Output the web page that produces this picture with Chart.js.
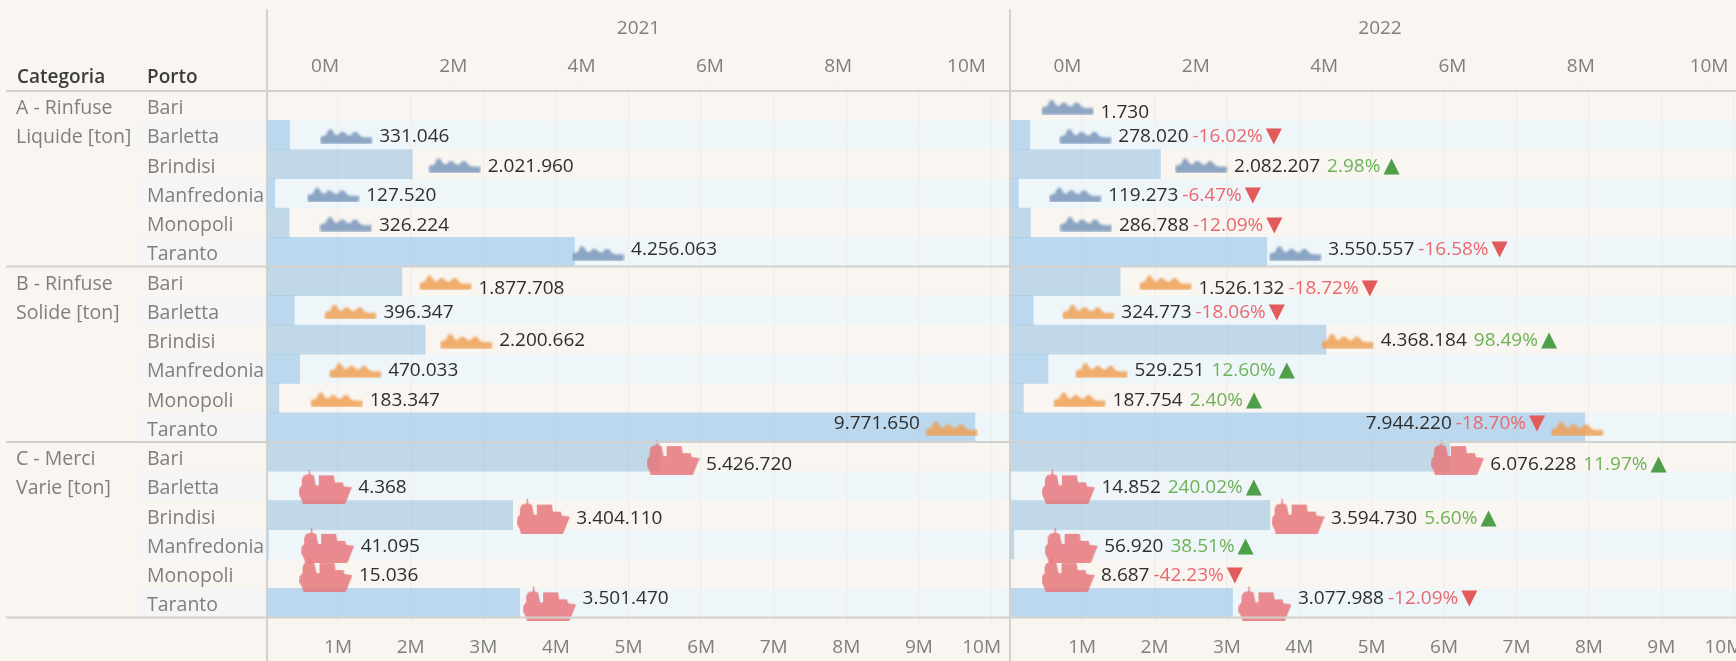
<!DOCTYPE html>
<html>
<head>
<meta charset="utf-8">
<script src="https://cdn.jsdelivr.net/npm/chart.js@4"></script>
<style>
  html, body { margin: 0; background: #f9f5f1; }
  #wrap { position: relative; width: 1736px; height: 661px; overflow: hidden; }
</style>
</head>
<body>
<div id="wrap"><canvas id="porti"></canvas></div>
<script>
var categorie = ["A - Rinfuse|Liquide [ton]", "B - Rinfuse|Solide [ton]", "C - Merci|Varie [ton]"];
var porti = ["Bari", "Barletta", "Brindisi", "Manfredonia", "Monopoli", "Taranto"];

var liquide2021 = [null, 331046, 2021960, 127520, 326224, 4256063];
var liquide2022 = [1730, 278020, 2082207, 119273, 286788, 3550557];
var solide2021 = [1877708, 396347, 2200662, 470033, 183347, 9771650];
var solide2022 = [1526132, 324773, 4368184, 529251, 187754, 7944220];
var merci2021 = [5426720, 4368, 3404110, 41095, 15036, 3501470];
var merci2022 = [6076228, 14852, 3594730, 56920, 8687, 3077988];

var tickTop = [0, 2000000, 4000000, 6000000, 8000000, 10000000];
var tickBottom = [1000000, 2000000, 3000000, 4000000, 5000000, 6000000, 7000000, 8000000, 9000000, 10000000];

// tableau moves the labels a bit off the row centre, px per row
var labelShift = [7, 2, 2, 2, 3, -2, 7, 2, 1, 2, 2, -4, 8, 2, 3, 2, 2, -4];

var values2021 = liquide2021.concat(solide2021, merci2021);
var values2022 = liquide2022.concat(solide2022, merci2022);
var righe = porti.concat(porti, porti);

var FONT = "'Open Sans', sans-serif";
var SIZE = 19;
var ROW_SIZE = 19.5;
var GREY = "#7f7f7f";
var LINE = "#d3d1ce";

// ship glyphs, used as point styles
function lowShip(color) {
  var c = document.createElement("canvas");
  c.width = 53;
  c.height = 18;
  var g = c.getContext("2d");
  g.filter = "blur(0.8px)";
  g.fillStyle = color;
  g.beginPath();
  var pts = [[1, 18], [0.5, 11.5], [3, 10], [6, 9.5], [9, 3.5], [12, 3.5], [15, 8.5], [18, 9.5], [21, 6], [24, 6], [28, 9.5], [31, 9.5], [34, 6], [37, 6], [41, 10.5], [44, 11.5], [52.5, 11.5], [52, 18]];
  pts.forEach(function (p, i) {
    if (i === 0) g.moveTo(p[0], p[1]);
    else g.lineTo(p[0], p[1]);
  });
  g.closePath();
  g.fill();
  return c;
}

function bigShip(color) {
  var c = document.createElement("canvas");
  c.width = 53;
  c.height = 37;
  var g = c.getContext("2d");
  g.filter = "blur(0.4px)";
  g.fillStyle = color;
  g.beginPath();
  var pts = [[3, 33], [0, 27], [0.5, 21], [3, 18], [3, 12], [5, 8], [9.5, 7], [10, 2], [11, 2], [11.5, 7], [15, 8], [16, 13], [17, 18], [20, 18], [20, 8], [35, 8], [36, 15], [44, 15], [45, 19], [53, 20], [47, 35], [46, 37], [4, 37]];
  pts.forEach(function (p, i) {
    if (i === 0) g.moveTo(p[0], p[1]);
    else g.lineTo(p[0], p[1]);
  });
  g.closePath();
  g.fill();
  return c;
}

var ships = [
  lowShip("rgba(121,150,186,0.85)"),
  lowShip("rgba(239,160,85,0.85)"),
  bigShip("rgba(230,119,123,0.85)"),
];

function shipFor(ctx) {
  return ships[Math.floor(ctx.dataIndex / 6)];
}

function milioni(v) {
  return Math.round(v / 1e6) + "M";
}

function milioniBottom(v) {
  // the last label sits a little inside the pane
  return v === 1e7 ? milioni(v) + "    " : milioni(v);
}

function puntato(v) {
  return String(v).replace(/\B(?=(\d{3})+$)/g, ".");
}

function text(g, str, x, y, font, color, align) {
  g.font = font;
  g.fillStyle = color;
  g.textAlign = align || "left";
  g.textBaseline = "middle";
  g.fillText(str, x, y);
}

var sfondo = {
  id: "sfondo",
  beforeDraw: function (chart) {
    var g = chart.ctx;
    var y = chart.scales.y;
    var a = chart.chartArea;
    righe.forEach(function (r, i) {
      if (i % 2 === 0) return;
      var top = y.getPixelForValue(i - 0.5);
      var h = y.getPixelForValue(i + 0.5) - top;
      g.fillStyle = "#f5f5f5";
      g.fillRect(137, top, a.left - 137, h);
      g.fillStyle = "#eff6fa";
      g.fillRect(a.left, top, a.right - a.left, h);
    });
  },
};

function drawLabels(chart, values, prev, scaleId, right) {
  var g = chart.ctx;
  var x = chart.scales[scaleId];
  var y = chart.scales.y;
  var f = SIZE + "px " + FONT;
  values.forEach(function (v, i) {
    if (v === null) return;
    var px = x.getPixelForValue(v);
    var py = y.getPixelForValue(i) + labelShift[i];
    var parts = [{ s: puntato(v), c: "#2e2e2e", gap: 0, f: f }];
    if (prev && prev[i] !== null) {
      var d = (v / prev[i] - 1) * 100;
      var up = d >= 0;
      parts.push({ s: d.toFixed(2) + "%", c: up ? "#6eb257" : "#e9686d", gap: up ? 7 : 4, f: f });
      parts.push({ s: up ? "\u25B2" : "\u25BC", c: up ? "#4e9e4a" : "#e35a5a", gap: 3, f: "21px 'DejaVu Sans'" });
    }
    var w = 0;
    parts.forEach(function (p) {
      g.font = p.f;
      p.w = g.measureText(p.s).width;
      w += p.w + p.gap;
    });
    var cur = px + 33;
    if (cur + w > right) cur = px - 32 - w;
    parts.forEach(function (p) {
      cur += p.gap;
      text(g, p.s, cur, py, p.f, p.c);
      cur += p.w;
    });
  });
}

var decorazioni = {
  id: "decorazioni",
  afterDatasetsDraw: function (chart) {
    var g = chart.ctx;
    var y = chart.scales.y;
    var a = chart.chartArea;
    var divide = chart.scales.xBar2022.left;

    g.strokeStyle = LINE;
    g.lineWidth = 2;
    [-0.5, 5.5, 11.5, 17.5].forEach(function (r) {
      var py = y.getPixelForValue(r);
      g.beginPath();
      g.moveTo(6, py);
      g.lineTo(a.right, py);
      g.stroke();
    });
    [a.left, divide].forEach(function (px) {
      g.beginPath();
      g.moveTo(px, 9);
      g.lineTo(px, 661);
      g.stroke();
    });

    drawLabels(chart, values2021, null, "xShip2021", divide);
    drawLabels(chart, values2022, values2021, "xShip2022", a.right);

    text(g, "2021", (a.left + divide) / 2, 29, SIZE + "px " + FONT, GREY, "center");
    text(g, "2022", (divide + a.right) / 2 + 7, 29, SIZE + "px " + FONT, GREY, "center");
    text(g, "Categoria", 17, 78, "600 19px " + FONT, "#3c3c3c");
    text(g, "Porto", 147, 78, "600 19px " + FONT, "#3c3c3c");

    categorie.forEach(function (c, i) {
      var p = c.split("|");
      text(g, p[0], 16, y.getPixelForValue(i * 6) + 3, ROW_SIZE + "px " + FONT, GREY);
      text(g, p[1], 16, y.getPixelForValue(i * 6 + 1) + 3, ROW_SIZE + "px " + FONT, GREY);
    });
  },
};

function barAxis(width, order, min, max) {
  return {
    type: "linear",
    position: "bottom",
    stack: "bars",
    stackWeight: width,
    weight: order,
    bounds: "data",
    min: min,
    max: max,
    afterFit: function (s) {
      s.height = 43.5;
      s.paddingLeft = 0;
      s.paddingRight = 0;
    },
    afterBuildTicks: function (s) {
      s.ticks = tickBottom.map(function (v) { return { value: v }; });
    },
    border: { display: false },
    grid: { color: "#f1eeeb", lineWidth: 1.5, tickLength: 6, tickColor: "#f1eeeb" },
    ticks: {
      autoSkip: false,
      maxRotation: 0,
      padding: 13,
      color: GREY,
      font: { family: FONT, size: SIZE },
      callback: milioniBottom,
    },
  };
}

function shipAxis(width, order, min, max) {
  return {
    type: "linear",
    position: "top",
    stack: "ships",
    stackWeight: width,
    weight: order,
    bounds: "data",
    min: min,
    max: max,
    afterFit: function (s) {
      s.height = 91;
      s.paddingLeft = 0;
      s.paddingRight = 0;
    },
    afterBuildTicks: function (s) {
      s.ticks = tickTop.map(function (v) { return { value: v }; });
    },
    border: { display: false },
    grid: { drawOnChartArea: false, tickLength: 6, tickColor: "#efedea" },
    ticks: {
      autoSkip: false,
      maxRotation: 0,
      padding: 7,
      color: GREY,
      font: { family: FONT, size: SIZE },
      callback: milioni,
    },
  };
}

var chart = new Chart(document.getElementById("porti").getContext("2d"), {
  type: "bar",
  data: {
    labels: righe,
    datasets: [
      {
        type: "line",
        indexAxis: "y",
        label: "2021 punti",
        data: values2021,
        xAxisID: "xShip2021",
        yAxisID: "y",
        showLine: false,
        pointStyle: shipFor,
        pointRadius: 5,
        order: 1,
      },
      {
        type: "line",
        indexAxis: "y",
        label: "2022 punti",
        data: values2022,
        xAxisID: "xShip2022",
        yAxisID: "y",
        showLine: false,
        pointStyle: shipFor,
        pointRadius: 5,
        order: 1,
      },
      {
        label: "2021",
        data: values2021,
        xAxisID: "xBar2021",
        yAxisID: "y",
        backgroundColor: "rgba(110,173,220,0.4)",
        barPercentage: 1,
        categoryPercentage: 1,
        grouped: false,
        order: 2,
      },
      {
        label: "2022",
        data: values2022,
        xAxisID: "xBar2022",
        yAxisID: "y",
        backgroundColor: "rgba(110,173,220,0.4)",
        barPercentage: 1,
        categoryPercentage: 1,
        grouped: false,
        order: 2,
      },
    ],
  },
  options: {
    indexAxis: "y",
    responsive: true,
    maintainAspectRatio: false,
    animation: false,
    events: [],
    layout: { autoPadding: false, padding: { left: 147 } },
    plugins: {
      legend: { display: false },
      tooltip: { enabled: false },
    },
    scales: {
      y: {
        type: "category",
        offset: true,
        afterFit: function (s) {
          s.width = 120;
          s.paddingTop = 0;
          s.paddingBottom = 0;
        },
        border: { display: false },
        grid: { display: false },
        ticks: {
          autoSkip: false,
          crossAlign: "far",
          padding: 0,
          labelOffset: 3,
          color: GREY,
          font: { family: FONT, size: ROW_SIZE },
        },
      },
      xBar2021: barAxis(743, 0, 20700, 10254700),
      xBar2022: barAxis(726, 1, 4000, 10032000),
      xShip2021: shipAxis(743, 1, -904000, 10678000),
      xShip2022: shipAxis(726, 0, -896000, 10420000),
    },
  },
  plugins: [sfondo, decorazioni],
});
</script>
</body>
</html>
